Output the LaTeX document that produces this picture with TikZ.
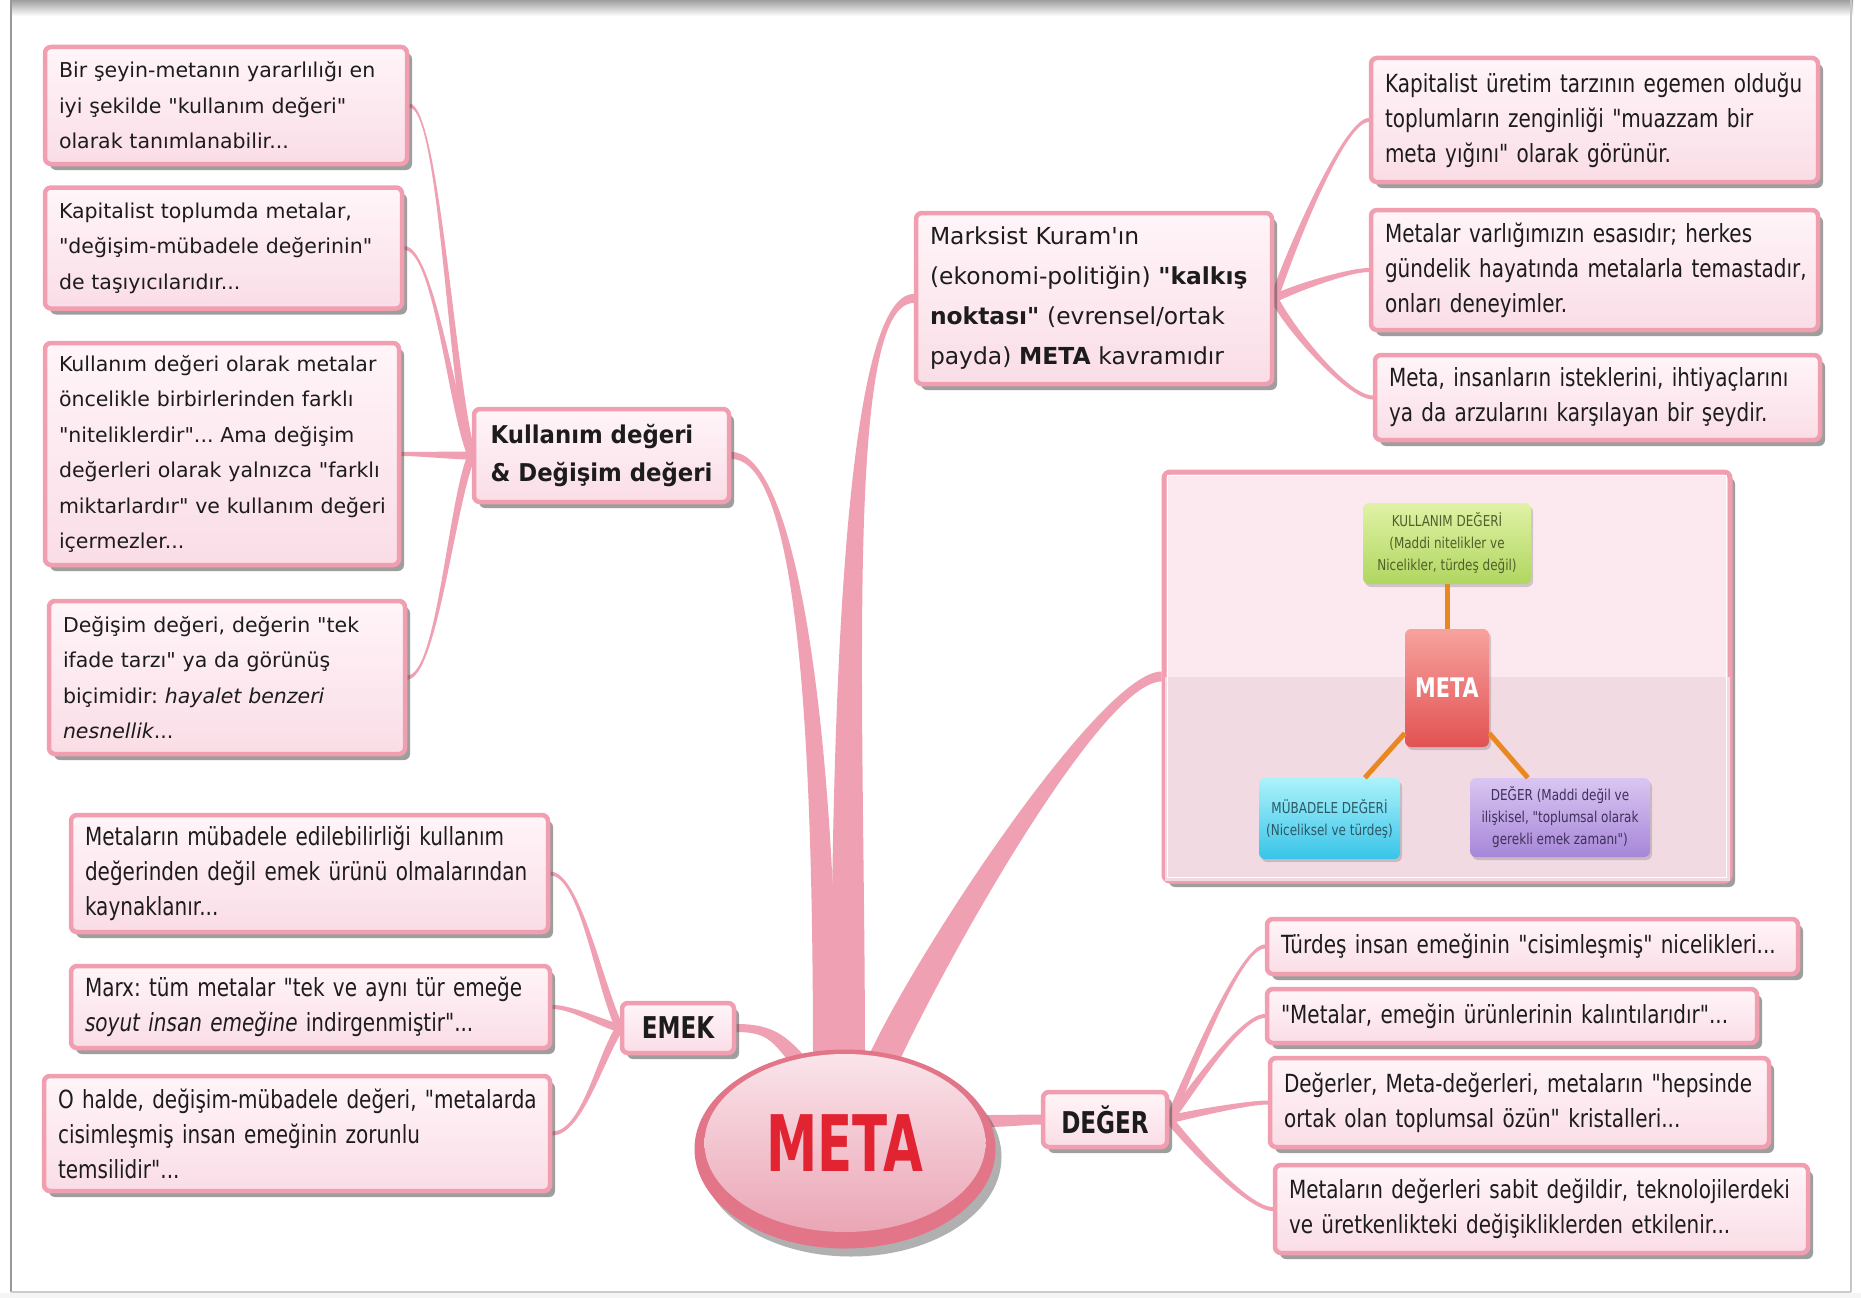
\documentclass[tikz,border=0pt]{standalone}
\usepackage{fontspec}
\usetikzlibrary{shapes.geometric,shadows,calc}
\frenchspacing
\newfontfamily\wfont{DejaVu Sans}
\newfontfamily\nfont[FakeStretch=0.80]{DejaVu Sans}
\newfontfamily\kfont[FakeStretch=0.93]{DejaVu Sans}
\newfontfamily\cfont[FakeStretch=0.77]{DejaVu Sans}
\newfontfamily\mfont[FakeStretch=0.66]{DejaVu Sans}
\newfontfamily\pfont[FakeStretch=0.8]{DejaVu Sans}
\newcommand\wtext{\wfont\fontsize{20.5}{35.5}\selectfont}
\newcommand\ntext{\nfont\fontsize{25}{35}\selectfont}
\newcommand\mktext{\wfont\fontsize{23.4}{40}\selectfont}
\newcommand\kdtext{\kfont\bfseries\fontsize{24.5}{38}\selectfont}
\newcommand\ctext{\cfont\bfseries\fontsize{30}{30}\selectfont}
\newcommand\metatext{\mfont\bfseries\fontsize{78}{78}\selectfont}
\newcommand\pictext{\pfont\fontsize{15}{22}\selectfont}
\definecolor{bord}{RGB}{241,158,177}
\definecolor{brc}{RGB}{239,160,178}
\definecolor{boxtop}{RGB}{255,245,248}
\definecolor{boxmid}{RGB}{252,231,238}
\definecolor{boxbot}{RGB}{250,221,230}
\definecolor{txt}{RGB}{28,28,28}
\definecolor{shad}{RGB}{80,80,80}
\definecolor{rim}{RGB}{226,118,136}
\definecolor{metainA}{RGB}{250,228,234}
\definecolor{metainB}{RGB}{234,166,181}
\definecolor{metared}{RGB}{226,36,50}
\definecolor{picA}{RGB}{252,233,239}
\definecolor{picB}{RGB}{242,218,226}
\definecolor{orng}{RGB}{233,135,32}
\definecolor{grnT}{RGB}{224,242,165}
\definecolor{grnB}{RGB}{176,214,96}
\definecolor{grnX}{RGB}{80,96,44}
\definecolor{redT}{RGB}{247,162,158}
\definecolor{redB}{RGB}{226,82,82}
\definecolor{cyT}{RGB}{172,242,251}
\definecolor{cyB}{RGB}{56,196,232}
\definecolor{cyX}{RGB}{44,88,100}
\definecolor{puT}{RGB}{218,198,242}
\definecolor{puB}{RGB}{166,134,216}
\definecolor{puX}{RGB}{62,48,92}
\pgfdeclarelayer{bg}
\pgfsetlayers{bg,main}
\tikzset{
  box/.style={draw=bord, line width=4.5pt, rounded corners=6pt,
    top color=boxtop, middle color=boxmid, bottom color=boxbot,
    drop shadow={shadow xshift=5pt, shadow yshift=-6pt, fill=shad, opacity=.55},
    align=left, inner xsep=14pt, inner ysep=4pt, text=txt},
  lbl/.style={box, align=center, inner xsep=6pt},
  ibox/.style={rounded corners=6pt, align=center, inner sep=2pt,
    drop shadow={shadow xshift=2pt, shadow yshift=-3pt, fill=gray, opacity=.35},
    font=\pictext},
  oline/.style={draw=orng, line width=5pt},
}
\newcommand\taper[6]{%
  \path (#1) ++#2 coordinate (tpA);
  \path (#3) ++#4 coordinate (tpB);
  \fill[brc] ($(#1)!#5!90:(tpA)$) .. controls ($(tpA)!#5!-90:(#1)$) and ($(tpB)!#6!90:(#3)$) .. ($(#3)!#6!-90:(tpB)$)
    -- ($(#3)!#6!90:(tpB)$) .. controls ($(tpB)!#6!-90:(#3)$) and ($(tpA)!#5!90:(#1)$) .. ($(#1)!#5!-90:(tpA)$) -- cycle;}
\begin{document}
\begin{tikzpicture}[x=1pt,y=-1pt]
\useasboundingbox (0,0) rectangle (1861,1298);

% ---------- left group ----------
\node[box, minimum width=362pt, minimum height=117pt, text width=334pt, font=\wtext] (l1) at (226,105.5)
 {\mbox{Bir şeyin-metanın yararlılığı en}\\\mbox{iyi şekilde "kullanım değeri"}\\\mbox{olarak tanımlanabilir...}};
\node[box, minimum width=357pt, minimum height=121pt, text width=329pt, font=\wtext] (l2) at (223.5,248)
 {\mbox{Kapitalist toplumda metalar,}\\\mbox{"değişim-mübadele değerinin"}\\\mbox{de taşıyıcılarıdır...}};
\node[box, minimum width=354pt, minimum height=222pt, text width=326pt, font=\wtext] (l3) at (222,454)
 {\mbox{Kullanım değeri olarak metalar}\\\mbox{öncelikle birbirlerinden farklı}\\\mbox{"niteliklerdir"... Ama değişim}\\\mbox{değerleri olarak yalnızca "farklı}\\\mbox{miktarlardır" ve kullanım değeri}\\\mbox{içermezler...}};
\node[box, minimum width=356pt, minimum height=153pt, text width=328pt, font=\wtext] (l4) at (227,677.5)
 {\mbox{Değişim değeri, değerin "tek}\\\mbox{ifade tarzı" ya da görünüş}\\\mbox{biçimidir: \textit{hayalet benzeri}}\\\mbox{\textit{nesnellik}...}};
\node[lbl, minimum width=255pt, minimum height=93pt, align=left, font=\kdtext] (kd) at (601.5,455.5)
 {Kullanım değeri\\\& Değişim değeri};

% ---------- EMEK group ----------
\node[box, minimum width=477pt, minimum height=117pt, text width=449pt, font=\ntext] (e1) at (309.5,873.5)
 {\mbox{Metaların mübadele edilebilirliği kullanım}\\\mbox{değerinden değil emek ürünü olmalarından}\\\mbox{kaynaklanır...}};
\node[box, minimum width=479pt, minimum height=82pt, text width=451pt, font=\ntext] (e2) at (310.5,1007)
 {\mbox{Marx: tüm metalar "tek ve aynı tür emeğe}\\\mbox{\textit{soyut insan emeğine} indirgenmiştir"...}};
\node[box, minimum width=506pt, minimum height=115pt, text width=478pt, font=\ntext] (e3) at (297,1133.5)
 {\mbox{O halde, değişim-mübadele değeri, "metalarda}\\\mbox{cisimleşmiş insan emeğinin zorunlu}\\\mbox{temsilidir"...}};
\node[lbl, minimum width=112pt, minimum height=50pt, font=\ctext] (emek) at (678,1028) {EMEK};

% ---------- META ----------
\node[ellipse, minimum width=301pt, minimum height=199pt, inner sep=0pt, fill=rim,
  drop shadow={shadow xshift=6pt, shadow yshift=-8pt, fill=shad, opacity=.45}] (meta) at (845,1149) {};
\node[ellipse, minimum width=281pt, minimum height=178pt, inner sep=0pt,
  top color=metainA, bottom color=metainB, text=metared, font=\metatext] (metain) at (845,1143) {META};

% ---------- DEGER group ----------
\node[lbl, minimum width=124pt, minimum height=55pt, font=\ctext] (deger) at (1105,1119.5) {DEĞER};
\node[box, minimum width=531pt, minimum height=55pt, text width=503pt, font=\ntext] (d1) at (1532.5,946.5)
 {\mbox{Türdeş insan emeğinin "cisimleşmiş" nicelikleri...}};
\node[box, minimum width=490pt, minimum height=54pt, text width=462pt, font=\ntext] (d2) at (1512,1016)
 {\mbox{"Metalar, emeğin ürünlerinin kalıntılarıdır"...}};
\node[box, minimum width=499pt, minimum height=89pt, text width=471pt, font=\ntext] (d3) at (1519.5,1102.5)
 {\mbox{Değerler, Meta-değerleri, metaların "hepsinde}\\\mbox{ortak olan toplumsal özün" kristalleri...}};
\node[box, minimum width=533pt, minimum height=88pt, text width=505pt, font=\ntext] (d4) at (1541.5,1209)
 {\mbox{Metaların değerleri sabit değildir, teknolojilerdeki}\\\mbox{ve üretkenlikteki değişikliklerden etkilenir...}};

% ---------- Marksist Kuram group ----------
\node[box, minimum width=356pt, minimum height=171pt, text width=328pt, font=\mktext] (mk) at (1094,298.5)
 {\mbox{Marksist Kuram'ın}\\\mbox{(ekonomi-politiğin) \textbf{"kalkış}}\\\mbox{\textbf{noktası"} (evrensel/ortak}\\\mbox{payda) \textbf{META} kavramıdır}};
\node[box, minimum width=447pt, minimum height=124pt, text width=419pt, font=\ntext] (r1) at (1594.5,120)
 {\mbox{Kapitalist üretim tarzının egemen olduğu}\\\mbox{toplumların zenginliği "muazzam bir}\\\mbox{meta yığını" olarak görünür.}};
\node[box, minimum width=447pt, minimum height=120pt, text width=419pt, font=\ntext] (r2) at (1594.5,270)
 {\mbox{Metalar varlığımızın esasıdır; herkes}\\\mbox{gündelik hayatında metalarla temastadır,}\\\mbox{onları deneyimler.}};
\node[box, minimum width=445pt, minimum height=85pt, text width=417pt, font=\ntext] (r3) at (1597.5,397.5)
 {\mbox{Meta, insanların isteklerini, ihtiyaçlarını}\\\mbox{ya da arzularını karşılayan bir şeydir.}};

% ---------- picture box ----------
\node[draw=bord, line width=5pt, rounded corners=6pt, fill=picA, minimum width=566pt, minimum height=409pt,
  drop shadow={shadow xshift=5pt, shadow yshift=-6pt, fill=shad, opacity=.55}] (pic) at (1447,676.5) {};
\fill[picB] ($(pic.west)+(3,0)$) rectangle ($(pic.south east)+(-3,-3)$);
\draw[white, line width=1.5pt] ($(pic.north west)+(6,6)$) rectangle ($(pic.south east)+(-6,-6)$);
\node[ibox, top color=grnT, bottom color=grnB, text=grnX, minimum width=168pt, minimum height=81pt] (green) at (1447,543.5)
 {KULLANIM DEĞERİ\\(Maddi nitelikler ve\\Nicelikler, türdeş değil)};
\node[ibox, top color=redT, bottom color=redB, text=white, minimum width=84pt, minimum height=118pt,
  font=\cfont\bfseries\fontsize{27}{27}\selectfont] (redm) at (1447,688) {META};
\node[ibox, top color=cyT, bottom color=cyB, text=cyX, minimum width=141pt, minimum height=81pt] (cyan) at (1329.5,818.5)
 {MÜBADELE DEĞERİ\\(Niceliksel ve türdeş)};
\node[ibox, top color=puT, bottom color=puB, text=puX, minimum width=180pt, minimum height=79pt] (purple) at (1560,817.5)
 {DEĞER (Maddi değil ve\\ilişkisel, "toplumsal olarak\\gerekli emek zamanı")};
\draw[oline] (green.south) -- (redm.north);
\draw[oline] (redm.-133) -- (cyan.49);
\draw[oline] (redm.-47) -- (purple.129);

% ---------- background: frame and branches ----------
\begin{pgfonlayer}{bg}
\fill[white] (0,0) rectangle (1861,1298);
\fill[top color=gray!75, bottom color=white] (10,0) rectangle (1853,16);
\draw[gray!80, line width=2.5pt] (11,0) -- (11,1292);
\draw[gray!45, line width=2pt] (1851,0) -- (1851,1292);
\draw[gray!40, line width=1.5pt] (11,1292) -- (1851,1292);
\fill[gray!8] (0,1293) rectangle (1861,1298);

\coordinate (mKD) at ($(meta.center)+(-20,-85)$);
\coordinate (mMK) at ($(meta.center)+(3,-88)$);
\coordinate (mPIC) at ($(meta.center)+(35,-82)$);
\coordinate (mEM) at ($(meta.center)+(-40,-80)$);
\coordinate (mDG) at ($(meta.center)+(140,-28)$);
\taper{mKD}{(0,-300)}{kd.east}{(70,0)}{12pt}{3.5pt}
\taper{mMK}{(0,-350)}{mk.west}{(-70,0)}{17pt}{4.5pt}
\taper{mPIC}{(50,-110)}{pic.west}{(-60,0)}{15pt}{5pt}
\taper{mEM}{(-25,-30)}{emek.east}{(35,0)}{8pt}{4pt}
\taper{mDG}{(25,0)}{deger.west}{(-15,0)}{6pt}{5pt}

\taper{kd.west}{(-20,-70)}{l1.east}{(30,0)}{4pt}{2pt}
\taper{kd.west}{(-20,-45)}{l2.east}{(30,0)}{4pt}{2pt}
\taper{kd.west}{(-20,0)}{l3.east}{(20,0)}{4pt}{2pt}
\taper{kd.west}{(-20,45)}{l4.east}{(30,0)}{4pt}{2pt}

\taper{emek.west}{(-20,-40)}{e1.east}{(30,0)}{4pt}{2pt}
\taper{emek.west}{(-20,-5)}{e2.east}{(20,0)}{4pt}{2pt}
\taper{emek.west}{(-20,30)}{e3.east}{(30,0)}{4pt}{2pt}

\taper{deger.east}{(20,-45)}{d1.west}{(-25,0)}{4pt}{2pt}
\taper{deger.east}{(20,-25)}{d2.west}{(-25,0)}{4pt}{2pt}
\taper{deger.east}{(20,-5)}{d3.west}{(-20,0)}{4pt}{2pt}
\taper{deger.east}{(20,25)}{d4.west}{(-25,0)}{4pt}{2pt}

\taper{mk.east}{(15,-45)}{r1.west}{(-25,0)}{4pt}{2pt}
\taper{mk.east}{(20,-10)}{r2.west}{(-20,0)}{4pt}{2pt}
\taper{mk.east}{(15,30)}{r3.west}{(-25,0)}{4pt}{2pt}
\end{pgfonlayer}
\end{tikzpicture}
\end{document}
